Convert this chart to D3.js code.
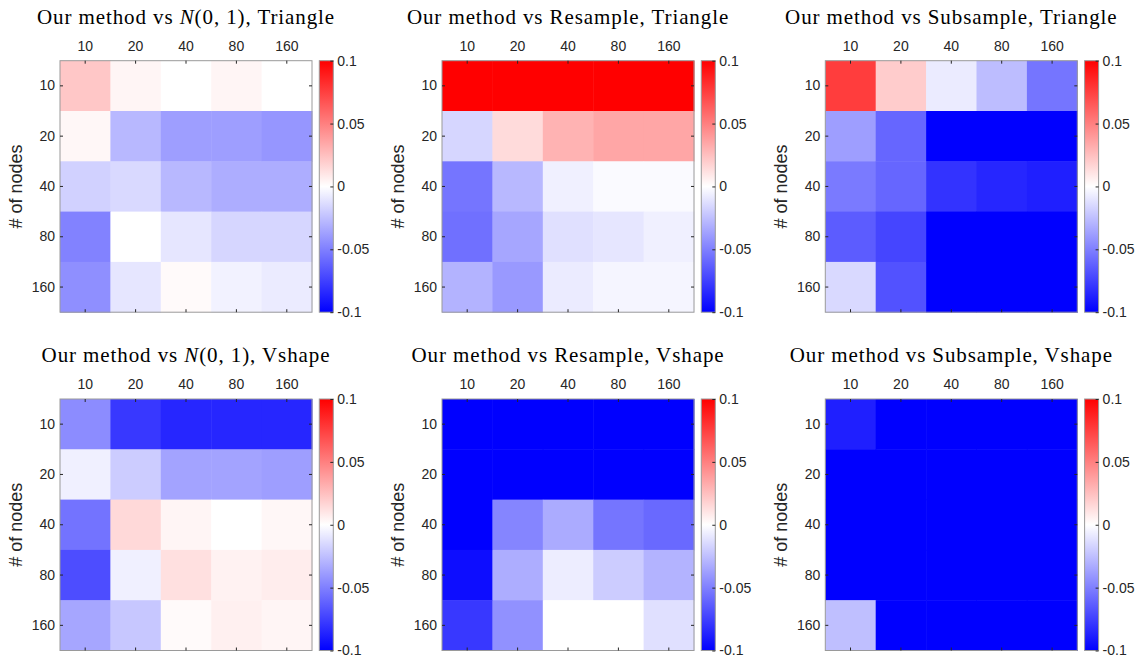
<!DOCTYPE html>
<html lang="en">
<head>
<meta charset="UTF-8">
<title>Heatmaps</title>
<script src="https://d3js.org/d3.v7.min.js"></script>
<style>
  body { margin: 0; background: #fff; }
  svg { display: block; }
</style>
</head>
<body>
<div id="chart"></div>
<script>
const width = 1139, height = 658;

// tick labels (columns and rows are the same set)
const colLabels = ["10", "20", "40", "80", "160"];
const rowLabels = ["10", "20", "40", "80", "160"];
const cbTicks = [-0.1, -0.05, 0, 0.05, 0.1];

// panel titles: [before, italic part, after]
const titles = [
  ["Our method vs ", "N", "(0, 1), Triangle"],
  ["Our method vs Resample, Triangle", "", ""],
  ["Our method vs Subsample, Triangle", "", ""],
  ["Our method vs ", "N", "(0, 1), Vshape"],
  ["Our method vs Resample, Vshape", "", ""],
  ["Our method vs Subsample, Vshape", "", ""]
];

// values, rows = # of nodes, cols = top labels
const normTriangle = [
  [0.022, 0.004, 0.000, 0.004, 0.000],
  [0.003, -0.028, -0.038, -0.038, -0.041],
  [-0.018, -0.015, -0.028, -0.032, -0.032],
  [-0.049, 0.000, -0.010, -0.016, -0.016],
  [-0.044, -0.010, 0.002, -0.005, -0.008]
];
const resampleTriangle = [
  [0.1, 0.1, 0.1, 0.1, 0.1],
  [-0.016, 0.014, 0.030, 0.035, 0.035],
  [-0.054, -0.028, -0.006, -0.002, -0.002],
  [-0.056, -0.035, -0.012, -0.010, -0.006],
  [-0.030, -0.040, -0.008, -0.004, -0.004]
];
const subsampleTriangle = [
  [0.076, 0.020, -0.008, -0.026, -0.054],
  [-0.038, -0.060, -0.1, -0.1, -0.1],
  [-0.052, -0.060, -0.080, -0.085, -0.088],
  [-0.064, -0.073, -0.1, -0.1, -0.1],
  [-0.015, -0.068, -0.1, -0.1, -0.1]
];
const normVshape = [
  [-0.045, -0.078, -0.085, -0.085, -0.085],
  [-0.006, -0.020, -0.036, -0.036, -0.038],
  [-0.055, 0.015, 0.004, 0.000, 0.003],
  [-0.070, -0.006, 0.012, 0.005, 0.007],
  [-0.035, -0.022, 0.002, 0.006, 0.004]
];
const resampleVshape = [
  [-0.1, -0.1, -0.1, -0.1, -0.1],
  [-0.1, -0.1, -0.1, -0.1, -0.1],
  [-0.1, -0.048, -0.033, -0.054, -0.059],
  [-0.095, -0.032, -0.007, -0.020, -0.030],
  [-0.078, -0.043, 0.000, 0.000, -0.012]
];
const subsampleVshape = [
  [-0.088, -0.1, -0.1, -0.1, -0.1],
  [-0.1, -0.1, -0.1, -0.1, -0.1],
  [-0.1, -0.1, -0.1, -0.1, -0.1],
  [-0.1, -0.1, -0.1, -0.1, -0.1],
  [-0.025, -0.1, -0.1, -0.1, -0.1]
];

const panels = [normTriangle, resampleTriangle, subsampleTriangle,
                normVshape, resampleVshape, subsampleVshape];

// layout
const lefts = [60, 442, 825.3];
const tops = [60.7, 399];
const pw = 252, ph = 251.5;
const cbGap = 7.3, cbW = 14;
const boxColor = "#9a9a9a";
const sans = "'Liberation Sans', Arial, sans-serif";
const serif = "'Liberation Serif', 'Times New Roman', serif";

const color = d3.scaleLinear()
  .domain([-0.1, 0, 0.1])
  .range(["#0000ff", "#ffffff", "#ff0000"])
  .clamp(true);

const svg = d3.select("#chart").append("svg")
  .attr("width", width).attr("height", height);

// gradient for the colorbar
const grad = svg.append("defs").append("linearGradient")
  .attr("id", "cbgrad")
  .attr("x1", 0).attr("y1", 1).attr("x2", 0).attr("y2", 0);
d3.range(0, 1.0001, 0.1).forEach(t => {
  grad.append("stop")
    .attr("offset", t)
    .attr("stop-color", color(-0.1 + 0.2 * t));
});

const x = d3.scaleBand().domain(colLabels).range([0, pw]);
const y = d3.scaleBand().domain(rowLabels).range([0, ph]);
const cy = d3.scaleLinear().domain([-0.1, 0.1]).range([ph, 0]);

const fmt = d => d === 0 ? "0" : String(+d.toFixed(2));

function styleAxis(a) {
  a.select(".domain").remove();
  a.selectAll("line").attr("stroke", "#262626");
  a.selectAll("text")
    .style("font-family", sans)
    .style("font-size", "14px")
    .style("fill", "#262626");
}

panels.forEach((data, i) => {
  const col = i % 3, row = Math.floor(i / 3);
  const g = svg.append("g")
    .attr("transform", `translate(${lefts[col]},${tops[row]})`);

  // cells
  const cells = [];
  data.forEach((r, ri) => r.forEach((v, ci) => cells.push({ r: rowLabels[ri], c: colLabels[ci], v })));
  g.selectAll("rect.cell")
    .data(cells)
    .join("rect")
    .attr("class", "cell")
    .attr("x", d => x(d.c))
    .attr("y", d => y(d.r))
    .attr("width", x.bandwidth() + 0.5)
    .attr("height", y.bandwidth() + 0.5)
    .attr("fill", d => color(d.v));

  // box
  g.append("rect")
    .attr("width", pw).attr("height", ph)
    .attr("fill", "none").attr("stroke", boxColor).attr("stroke-width", 1);

  // axes (inward ticks)
  const axes = [
    d3.axisTop(x).tickSizeInner(-3).tickSizeOuter(0).tickPadding(10),
    d3.axisBottom(x).tickSizeInner(-3).tickSizeOuter(0).tickFormat(""),
    d3.axisLeft(y).tickSizeInner(-3).tickSizeOuter(0).tickPadding(5),
    d3.axisRight(y).tickSizeInner(-3).tickSizeOuter(0).tickFormat("")
  ];
  const pos = [[0, 0], [0, ph], [0, 0], [pw, 0]];
  axes.forEach((ax, k) => {
    g.append("g").attr("transform", `translate(${pos[k][0]},${pos[k][1]})`)
      .call(ax).call(styleAxis);
  });

  // y label
  g.append("text")
    .attr("transform", `translate(-44.5,${ph / 2}) rotate(-90)`)
    .attr("text-anchor", "middle")
    .attr("dy", "0.35em")
    .style("font-family", sans).style("font-size", "18px")
    .style("fill", "#262626")
    .text("# of nodes");

  // title
  const t = titles[i];
  const tt = g.append("text")
    .attr("x", pw / 2).attr("y", -37)
    .attr("text-anchor", "middle")
    .style("font-family", serif).style("font-size", "21px")
    .style("letter-spacing", "0.9px")
    .style("fill", "#000");
  tt.append("tspan").text(t[0]);
  if (t[1]) {
    tt.append("tspan").style("font-style", "italic").text(t[1]);
    tt.append("tspan").text(t[2]);
  }

  // colorbar
  const cb = g.append("g").attr("transform", `translate(${pw + cbGap},0)`);
  cb.append("rect")
    .attr("width", cbW).attr("height", ph)
    .attr("fill", "url(#cbgrad)")
    .attr("stroke", boxColor).attr("stroke-width", 1);
  cb.append("g").attr("transform", `translate(${cbW},0)`)
    .call(d3.axisRight(cy).tickValues(cbTicks).tickFormat(fmt)
      .tickSizeInner(-3).tickSizeOuter(0).tickPadding(4))
    .call(styleAxis);
});
</script>
</body>
</html>
